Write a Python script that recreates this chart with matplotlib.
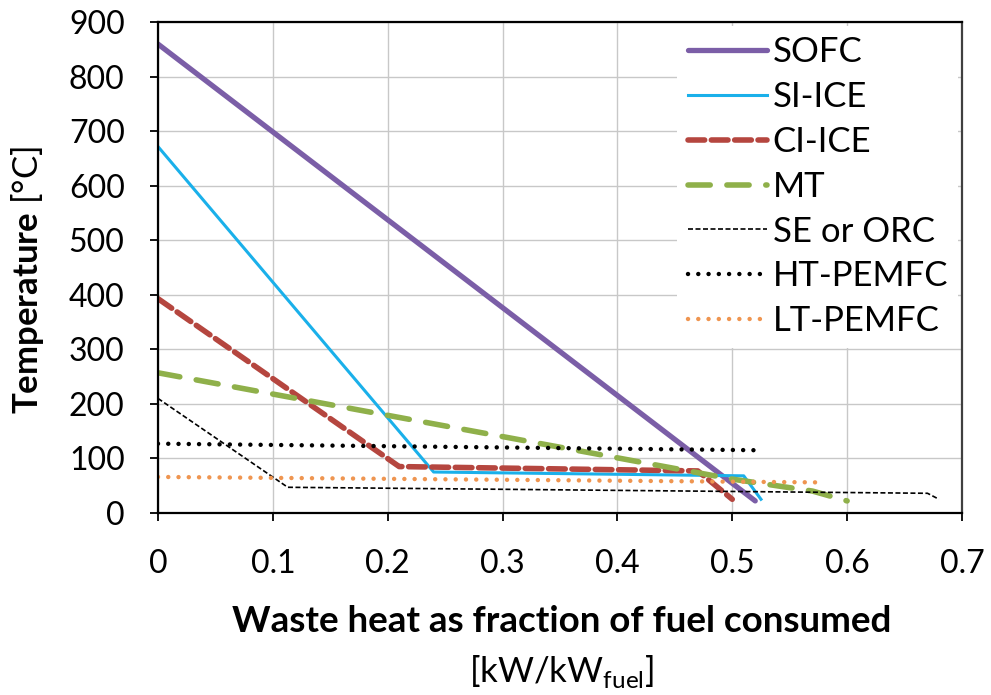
import matplotlib.pyplot as plt

plt.rcParams['font.family'] = ['Lato', 'DejaVu Sans']
plt.rcParams['mathtext.fontset'] = 'custom'
plt.rcParams['mathtext.rm'] = 'Lato'
plt.rcParams['mathtext.bf'] = 'Lato:bold'

names = ['SOFC', 'SI-ICE', 'CI-ICE', 'MT', 'SE or ORC', 'HT-PEMFC', 'LT-PEMFC']
sofc_x = [0, 0.52]
sofc_y = [860, 22]
si_x = [0, 0.24, 0.51, 0.525]
si_y = [672, 75, 68, 25]
ci_x = [0, 0.21, 0.47, 0.50]
ci_y = [393, 85, 77, 25]
mt_x = [0, 0.5, 0.57, 0.6]
mt_y = [257, 62, 40, 22]
se_x = [0, 0.113, 0.67, 0.68]
se_y = [210, 47, 36, 25]
ht_x = [0, 0.52]
ht_y = [127, 115]
lt_x = [0, 0.575]
lt_y = [66, 56]

xticks = [0, 0.1, 0.2, 0.3, 0.4, 0.5, 0.6, 0.7]
xlabels = ['0', '0.1', '0.2', '0.3', '0.4', '0.5', '0.6', '0.7']
yticks = list(range(0, 901, 100))

fig = plt.figure(figsize=(9.91, 6.95), dpi=100)
ax = fig.add_axes([0.1594, 0.262, 0.8113, 0.706])

ax.plot(sofc_x, sofc_y, color='#7b5ea7', lw=3.8, solid_capstyle='round', label=names[0])
ax.plot(si_x, si_y, color='#1ab0ea', lw=2.2, label=names[1])
ax.plot(ci_x, ci_y, color='#b5463f', lw=4, dashes=(3, 1.2), dash_capstyle='round', label=names[2])
ax.plot(mt_x, mt_y, color='#8fb04a', lw=4, dashes=(4, 3), dash_capstyle='round', label=names[3])
ax.plot(se_x, se_y, color='black', lw=1.2, dashes=(3, 1.5), label=names[4])
ax.plot(ht_x, ht_y, color='black', lw=3.2, dashes=(0.01, 2.3), dash_capstyle='round', label=names[5])
ax.plot(lt_x, lt_y, color='#ef9550', lw=3.2, dashes=(0.01, 2.3), dash_capstyle='round', label=names[6])

ax.set_xlim(0, 0.7)
ax.set_ylim(0, 900)
ax.set_xticks(xticks)
ax.set_xticklabels(xlabels)
ax.set_yticks(yticks)
ax.grid(True, color='#c8c8c8', lw=1)
ax.set_axisbelow(True)
ax.tick_params(axis='both', direction='out', length=6, width=1.3, labelsize=23)
ax.tick_params(axis='x', pad=20)
ax.tick_params(axis='y', pad=18)
for s in ['left', 'bottom', 'top']:
    ax.spines[s].set_linewidth(1.6)
    ax.spines[s].set_color('black')
ax.spines['right'].set_linewidth(1.6)
ax.spines['right'].set_color('#404040')

leg = ax.legend(loc='upper right', fontsize=25, handlelength=2.28, handletextpad=0.17,
                labelspacing=0.37, borderaxespad=0.1, fancybox=False, framealpha=1,
                edgecolor='none', borderpad=0.3)

fig.text(0.028, 0.597, r'$\mathbf{Temperature}$ [°C]', rotation=90, ha='center', va='center', fontsize=25)
fig.text(0.567, 0.091, 'Waste heat as fraction of fuel consumed', ha='center', va='baseline',
         fontsize=26.5, fontweight='bold')
fig.text(0.567, 0.019, r'[kW/kW$_{\mathrm{fuel}}$]', ha='center', va='baseline', fontsize=25)

fig.savefig('out.png', dpi=100)
